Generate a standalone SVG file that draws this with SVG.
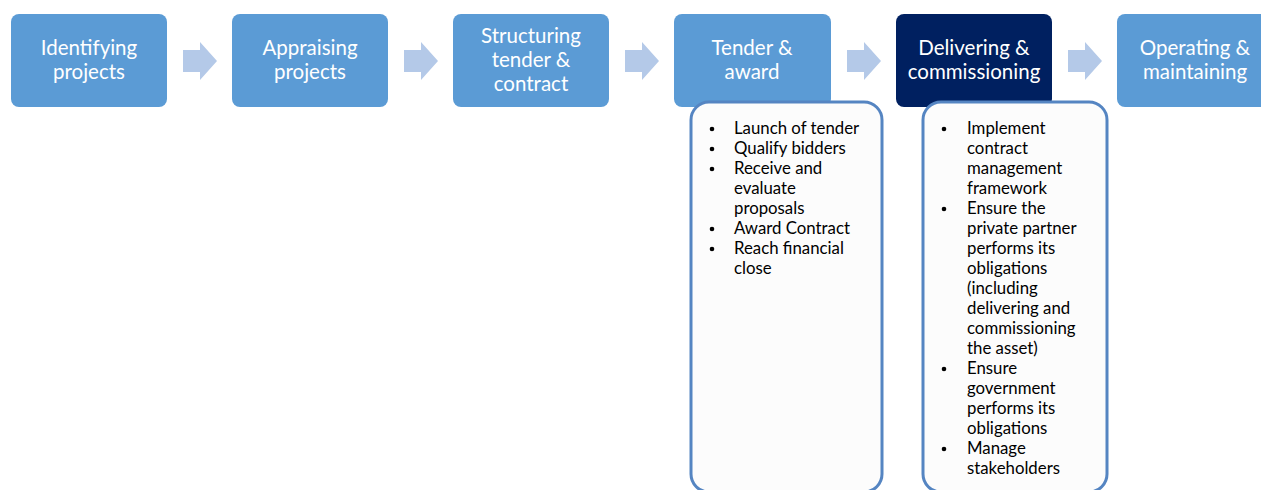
<svg xmlns="http://www.w3.org/2000/svg" width="1261" height="490" viewBox="0 0 1261 490">
  <defs>
    <style>
      .step { fill: #5b9bd5; }
      .step.active { fill: #002060; }
      .title { font-family: Lato, "Liberation Sans", sans-serif; font-size: 20.5px; fill: #ffffff; text-anchor: middle; }
      .flow { fill: #b4c9e8; }
      .detail { fill: #fcfcfc; stroke: #5585c2; stroke-width: 3; }
      .item { font-family: Lato, "Liberation Sans", sans-serif; font-size: 16.8px; fill: #000000; }
      .dot { fill: #000000; }
    </style>
    <path id="chev" d="M0,8 H17 V0 L34,19 L17,38 V30 H0 Z"/>
    <circle id="bullet" r="2.3"/>
  </defs>
  <rect width="1261" height="490" fill="#ffffff"/>

  <!-- arrows between stages -->
  <g id="connectors">
    <use href="#chev" class="flow" x="183" y="42"/>
    <use href="#chev" class="flow" x="404" y="42"/>
    <use href="#chev" class="flow" x="625" y="42"/>
    <use href="#chev" class="flow" x="847" y="42"/>
    <use href="#chev" class="flow" x="1068" y="42"/>
  </g>

  <g id="identifying">
    <rect class="step" x="11" y="14" width="156" height="93" rx="8"/>
    <text class="title" x="89" y="55">Identifying</text>
    <text class="title" x="89" y="79">projects</text>
  </g>
  <g id="appraising">
    <rect class="step" x="232" y="14" width="156" height="93" rx="8"/>
    <text class="title" x="310" y="55">Appraising</text>
    <text class="title" x="310" y="79">projects</text>
  </g>
  <g id="structuring">
    <rect class="step" x="453" y="14" width="156" height="93" rx="8"/>
    <text class="title" x="531" y="43">Structuring</text>
    <text class="title" x="531" y="67">tender &amp;</text>
    <text class="title" x="531" y="91">contract</text>
  </g>
  <g id="tender">
    <rect class="step" x="674" y="14" width="157" height="93" rx="8"/>
    <text class="title" x="752" y="55">Tender &amp;</text>
    <text class="title" x="752" y="79">award</text>
  </g>
  <g id="delivering">
    <rect class="step active" x="896" y="14" width="156" height="93" rx="8"/>
    <text class="title" x="974" y="55">Delivering &amp;</text>
    <text class="title" x="974" y="79">commissioning</text>
  </g>
  <g id="operating">
    <rect class="step" x="1117" y="14" width="156" height="93" rx="8"/>
    <text class="title" x="1195" y="55">Operating &amp;</text>
    <text class="title" x="1195" y="79">maintaining</text>
  </g>

  <g id="tender-details">
    <rect class="detail" x="691" y="102" width="191" height="390" rx="18"/>
    <g class="dot">
      <use href="#bullet" x="712" y="129"/>
      <use href="#bullet" x="712" y="149"/>
      <use href="#bullet" x="712" y="169"/>
      <use href="#bullet" x="712" y="229"/>
      <use href="#bullet" x="712" y="249"/>
    </g>
    <g class="item">
      <text x="734" y="134">Launch of tender</text>
      <text x="734" y="154">Qualify bidders</text>
      <text x="734" y="174">Receive and</text>
      <text x="734" y="194">evaluate</text>
      <text x="734" y="214">proposals</text>
      <text x="734" y="234">Award Contract</text>
      <text x="734" y="254">Reach financial</text>
      <text x="734" y="274">close</text>
    </g>
  </g>

  <g id="delivering-details">
    <rect class="detail" x="923" y="102" width="184" height="390" rx="18"/>
    <g class="dot">
      <use href="#bullet" x="944" y="129"/>
      <use href="#bullet" x="944" y="209"/>
      <use href="#bullet" x="944" y="369"/>
      <use href="#bullet" x="944" y="449"/>
    </g>
    <g class="item">
      <text x="967" y="134">Implement</text>
      <text x="967" y="154">contract</text>
      <text x="967" y="174">management</text>
      <text x="967" y="194">framework</text>
      <text x="967" y="214">Ensure the</text>
      <text x="967" y="234">private partner</text>
      <text x="967" y="254">performs its</text>
      <text x="967" y="274">obligations</text>
      <text x="967" y="294">(including</text>
      <text x="967" y="314">delivering and</text>
      <text x="967" y="334">commissioning</text>
      <text x="967" y="354">the asset)</text>
      <text x="967" y="374">Ensure</text>
      <text x="967" y="394">government</text>
      <text x="967" y="414">performs its</text>
      <text x="967" y="434">obligations</text>
      <text x="967" y="454">Manage</text>
      <text x="967" y="474">stakeholders</text>
    </g>
  </g>
</svg>
